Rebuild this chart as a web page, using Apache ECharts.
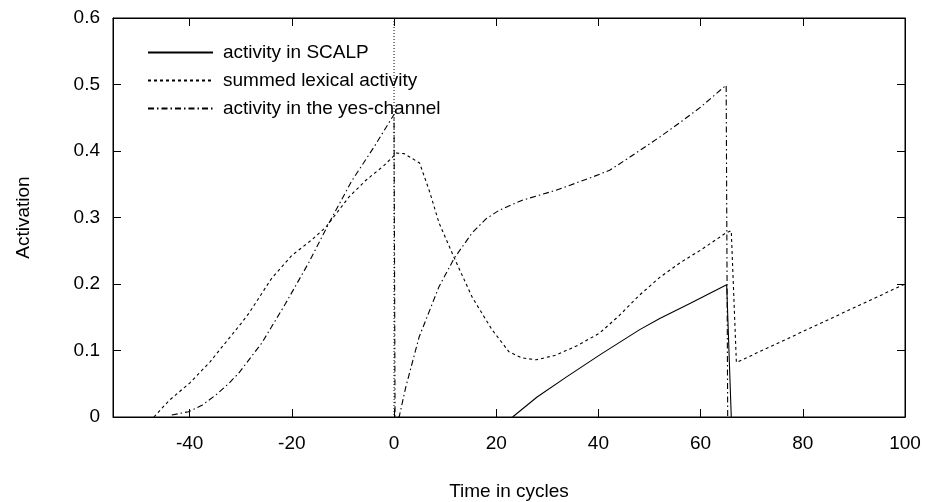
<!DOCTYPE html>
<html>
<head>
<meta charset="utf-8">
<script src="https://cdn.jsdelivr.net/npm/echarts@6/dist/echarts.min.js"></script>
<style>html,body{margin:0;padding:0;background:#fff}#c{width:925px;height:502px}</style>
</head>
<body>
<div id="c"></div>
<script>
// ---- data ----
const xTicks = [-40, -20, 0, 20, 40, 60, 80, 100];
const yTicks = [0, 0.1, 0.2, 0.3, 0.4, 0.5, 0.6];

const seriesNames = ["activity in SCALP", "summed lexical activity", "activity in the yes-channel"];

const scalpX = [23.2, 28, 33.7, 40.2, 48, 52, 58, 65.1, 66];
const scalpY = [0, 0.03, 0.06, 0.093, 0.131, 0.148, 0.171, 0.199, 0];

const lexX = [-47, -44, -40, -36, -33.7, -30, -28.4, -24, -20, -16, -13.3, -8.8, -5.5, -2, 0, 0.5, 2, 5, 7, 8.8, 11.8, 15.3, 19.2, 22.5, 25, 27.8, 31.7, 36, 40.2, 44, 48, 52, 56, 60, 65, 66, 67, 100];
const lexY = [0, 0.025, 0.051, 0.083, 0.105, 0.14, 0.156, 0.208, 0.243, 0.267, 0.286, 0.331, 0.356, 0.378, 0.393, 0.397, 0.396, 0.382, 0.338, 0.292, 0.239, 0.18, 0.131, 0.098, 0.089, 0.086, 0.093, 0.108, 0.126, 0.152, 0.183, 0.21, 0.232, 0.251, 0.277, 0.28, 0.082, 0.2];

const yesX = [-43.5, -40.2, -37.5, -34.9, -32.4, -30.4, -25.9, -21.2, -16.7, -12.7, -8.2, -4, 0, 0.2, 1, 2.3, 4.9, 8.8, 11.8, 15.3, 18, 20.6, 25.1, 31.7, 38.2, 42.2, 46, 52, 56, 60, 65, 65.3];
const yesY = [0.003, 0.008, 0.018, 0.033, 0.05, 0.066, 0.111, 0.171, 0.232, 0.292, 0.356, 0.405, 0.455, 0, 0, 0.045, 0.12, 0.196, 0.239, 0.277, 0.298, 0.311, 0.326, 0.341, 0.359, 0.371, 0.39, 0.421, 0.443, 0.466, 0.499, 0];

const onsetX = [0, 0];
const onsetY = [0.6, 0];

// ---- build ----
const pairs = (xs, ys) => xs.map((x, i) => [x, ys[i]]);
const FONT = "Liberation Sans";
const txt = { fontFamily: FONT, fontSize: 19, color: "#000" };

const chart = echarts.init(document.getElementById("c"), null, { renderer: "canvas" });
const lineBase = { type: "line", symbol: "none", showSymbol: false, animation: false, silent: true };

chart.setOption({
  backgroundColor: "#fff",
  animation: false,
  grid: { left: 113, right: 20, top: 18, bottom: 85, show: true, borderColor: "#000", borderWidth: 1,
          containLabel: false, outerBoundsMode: "none" },
  legend: {
    data: seriesNames,
    orient: "vertical",
    left: 142,
    top: 38,
    itemWidth: 65,
    itemHeight: 10,
    itemGap: 9,
    itemStyle: { opacity: 0, borderWidth: 0, color: "rgba(0,0,0,0)" },
    textStyle: Object.assign({}, txt, { padding: [0, 0, 0, 5] }),
    selectedMode: false
  },
  xAxis: [{
    type: "value", min: -55, max: 100, position: "bottom",
    name: "Time in cycles", nameLocation: "middle", nameGap: 65, nameTextStyle: txt,
    axisLine: { show: true, onZero: false, lineStyle: { color: "#000", width: 1 } },
    axisTick: { show: true, inside: true, length: 8, customValues: xTicks, lineStyle: { color: "#000" } },
    axisLabel: { customValues: xTicks, margin: 17, formatter: v => String(v), ...txt },
    splitLine: { show: false }
  }, {
    type: "value", min: -55, max: 100, position: "top",
    axisLine: { show: true, onZero: false, lineStyle: { color: "#000", width: 1 } },
    axisTick: { show: true, inside: true, length: 8, customValues: xTicks, lineStyle: { color: "#000" } },
    axisLabel: { show: false },
    splitLine: { show: false }
  }],
  yAxis: [{
    type: "value", min: 0, max: 0.6, interval: 0.1, position: "left",
    name: "Activation", nameLocation: "middle", nameGap: 80, nameRotate: 90, nameTextStyle: txt,
    axisLine: { show: true, onZero: false, lineStyle: { color: "#000", width: 1 } },
    axisTick: { show: true, inside: true, length: 8, lineStyle: { color: "#000" } },
    axisLabel: { margin: 13, formatter: v => String(Math.round(v * 10) / 10), ...txt },
    splitLine: { show: false }
  }, {
    type: "value", min: 0, max: 0.6, interval: 0.1, position: "right",
    axisLine: { show: true, onZero: false, lineStyle: { color: "#000", width: 1 } },
    axisTick: { show: true, inside: true, length: 8, lineStyle: { color: "#000" } },
    axisLabel: { show: false },
    splitLine: { show: false }
  }],
  series: [
    Object.assign({}, lineBase, { name: seriesNames[0], data: pairs(scalpX, scalpY),
      itemStyle: { color: "#000" }, lineStyle: { color: "#000", width: 1.1, type: "solid" } }),
    Object.assign({}, lineBase, { name: seriesNames[1], data: pairs(lexX, lexY),
      itemStyle: { color: "#000" }, lineStyle: { color: "#000", width: 1.1, type: [3, 3] } }),
    Object.assign({}, lineBase, { name: seriesNames[2], data: pairs(yesX, yesY),
      itemStyle: { color: "#000" }, lineStyle: { color: "#000", width: 1.1, type: [6, 3, 1.5, 3] } }),
    Object.assign({}, lineBase, { name: "onset", data: pairs(onsetX, onsetY),
      itemStyle: { color: "#000" }, lineStyle: { color: "#000", width: 1, type: [1, 2] } })
  ]
});
</script>
</body>
</html>
